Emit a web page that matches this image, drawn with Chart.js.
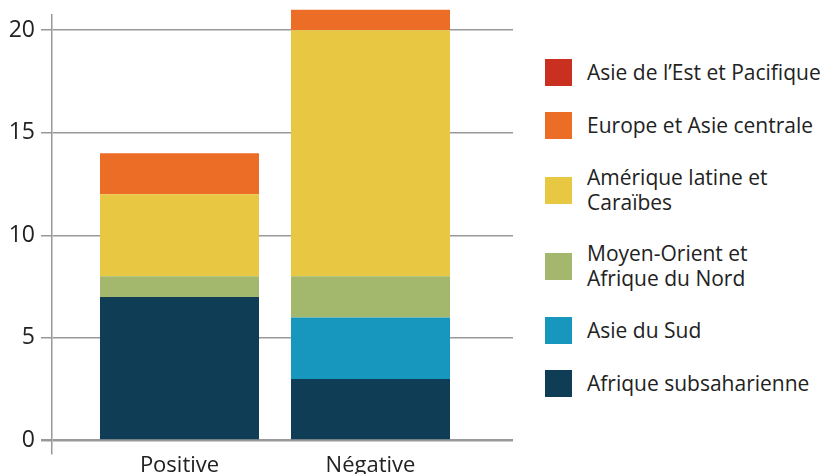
<!DOCTYPE html>
<html>
<head>
<meta charset="utf-8">
<script src="https://cdn.jsdelivr.net/npm/chart.js@4"></script>
<style>
  body { margin: 0; background: #fff; font-family: "Open Sans", sans-serif; }
  #wrap { position: relative; width: 828px; height: 474px; }
  #chartBox { position: absolute; left: 0; top: 0; width: 530px; height: 474px; }
  #legend { position: absolute; left: 545px; top: 59px; list-style: none; margin: 0; padding: 0; }
  #legend li { display: flex; align-items: center; margin-bottom: 26px; color: #222; font-size: 21px; line-height: 25px; white-space: nowrap; }
  #legend .sw { width: 27px; height: 27px; flex: none; margin-right: 15px; }
</style>
</head>
<body>
<div id="wrap">
  <div id="chartBox"><canvas id="barChart"></canvas></div>
  <ul id="legend"></ul>
</div>
<script>
// categories and series (bottom to top)
const categories = ["Positive", "Négative"];
const seriesNames = [
  "Afrique subsaharienne",
  "Asie du Sud",
  "Moyen-Orient et\nAfrique du Nord",
  "Amérique latine et\nCaraïbes",
  "Europe et Asie centrale",
  "Asie de l’Est et Pacifique"
];
const seriesColors = ["#0f3d55", "#1797bd", "#a3b86c", "#e8c842", "#ec6e26", "#c9301f"];
const afriqueSub = [7, 3];
const asieSud = [0, 3];
const moyenOrient = [1, 2];
const ameriqueLatine = [4, 12];
const europeAsie = [2, 1];
const asieEst = [0, 0];
const yTicks = [0, 5, 10, 15, 20];

const seriesValues = [afriqueSub, asieSud, moyenOrient, ameriqueLatine, europeAsie, asieEst];

const datasets = seriesValues.map((vals, i) => ({
  label: seriesNames[i],
  data: vals.map((v, j) => ({ x: j, y: v })),
  backgroundColor: seriesColors[i],
  borderWidth: 0,
  barPercentage: 0.8325,
  categoryPercentage: 1,
  clip: false,
}));

const ctx = document.getElementById("barChart").getContext("2d");
const chart = new Chart(ctx, {
  type: "bar",
  data: { datasets: datasets },
  options: {
    responsive: true,
    maintainAspectRatio: false,
    animation: false,
    layout: { padding: { top: 15, right: 17, left: 0, bottom: 0 } },
    plugins: { legend: { display: false }, tooltip: { enabled: false } },
    scales: {
      x: {
        type: "linear",
        stacked: true,
        offset: false,
        bounds: "data",
        grace: 0,
        min: -0.6675,
        max: 1.746,
        afterBuildTicks: (scale) => {
          scale.ticks = categories.map((c, i) => ({ value: i }));
        },
        afterFit: (scale) => { scale.height = 21; },
        grid: { display: false, drawTicks: false, offset: false },
        border: { display: false },
        ticks: {
          padding: 0,
          autoSkip: false,
          maxRotation: 0,
          color: "#222",
          font: { family: "Open Sans", size: 22 },
          callback: (v) => categories[v],
        },
      },
      y: {
        stacked: true,
        bounds: "data",
        grace: 0,
        min: -0.609,
        max: 20.73,
        afterBuildTicks: (scale) => {
          scale.ticks = yTicks.map((v) => ({ value: v }));
        },
        afterFit: (scale) => { scale.width = 52; },
        grid: {
          color: "#999",
          lineWidth: (c) => (c.tick && c.tick.value === 0 ? 2.5 : 1.5),
          tickLength: 11,
        },
        border: { color: "#999", width: 1.5 },
        ticks: {
          padding: 6,
          color: "#222",
          font: { family: "Open Sans", size: 23, lineHeight: 0.8 },
        },
      },
    },
  },
});

// html legend, top series first
const legend = document.getElementById("legend");
datasets.slice().reverse().forEach((ds) => {
  const li = document.createElement("li");
  const sw = document.createElement("span");
  sw.className = "sw";
  sw.style.background = ds.backgroundColor;
  const txt = document.createElement("span");
  txt.innerHTML = ds.label.replace("\n", "<br>");
  li.appendChild(sw);
  li.appendChild(txt);
  legend.appendChild(li);
});
</script>
</body>
</html>
